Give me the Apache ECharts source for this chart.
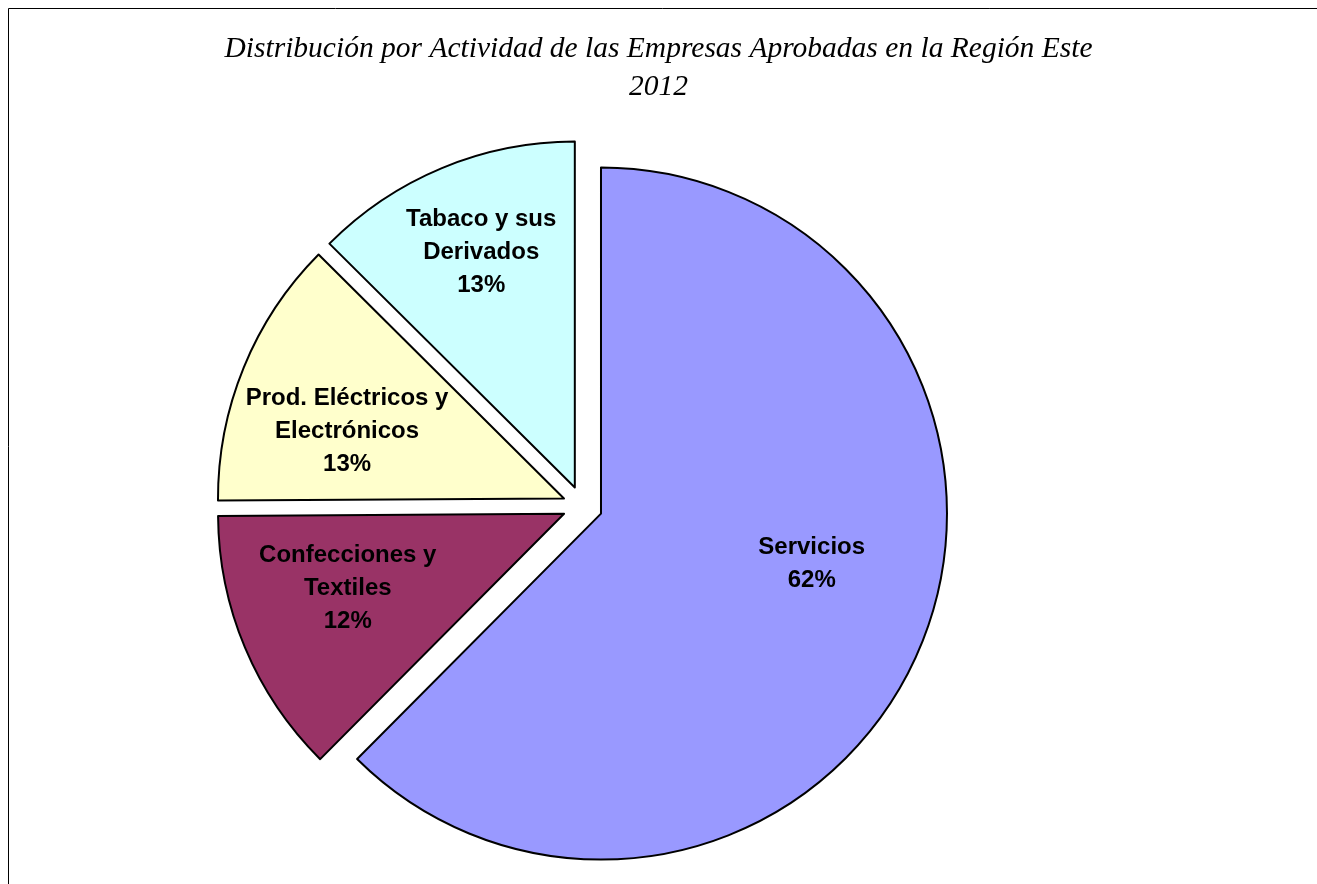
<!DOCTYPE html>
<html>
<head>
<meta charset="utf-8">
<script src="https://cdn.jsdelivr.net/npm/echarts@6/dist/echarts.min.js"></script>
<style>
html,body{margin:0;padding:0;background:#fff;}
#chart{width:1317px;height:884px;}
</style>
</head>
<body>
<div id="chart"></div>
<script>
var titleLines = ['Distribución por Actividad de las Empresas Aprobadas en la Región Este', '2012'];
var categories = ['Servicios', 'Confecciones y\nTextiles', 'Prod. Eléctricos y\nElectrónicos', 'Tabaco y sus\nDerivados'];
var values = [62.45, 12.45, 12.55, 12.55];
var colors = ['#9999FF', '#993366', '#FFFFCC', '#CCFFFF'];
var labelShift = [[48, -17], [-54, 7], [-54, 0], [-26, -73]];

var total = values.reduce(function (a, b) { return a + b; }, 0);
var chart = echarts.init(document.getElementById('chart'), null, {renderer: 'canvas'});
var data = categories.map(function (c, i) {
  return {name: c, value: values[i], selected: true, itemStyle: {color: colors[i]}};
});
chart.setOption({
  animation: false,
  title: {
    text: titleLines.join('\n'),
    left: 'center',
    top: 25,
    padding: [5, 5, 5, 17],
    textStyle: {fontFamily: 'Liberation Serif', fontStyle: 'italic', fontWeight: 'normal', fontSize: 29.5, lineHeight: 38, color: '#000'}
  },
  graphic: [{
    type: 'polyline',
    shape: {points: [[8.5, 884], [8.5, 8.5], [1317, 8.5]]},
    style: {stroke: '#000', lineWidth: 1, fill: null}
  }],
  series: [{
    type: 'pie',
    center: [582.5, 506],
    radius: 346,
    startAngle: 90,
    clockwise: true,
    selectedMode: 'multiple',
    selectedOffset: 20,
    emphasis: {disabled: true},
    itemStyle: {borderColor: '#000', borderWidth: 2},
    label: {
      show: true,
      position: 'inside',
      fontFamily: 'Liberation Sans',
      fontWeight: 'bold',
      fontSize: 24,
      lineHeight: 33,
      color: '#000',
      align: 'center',
      formatter: function (p) { return p.name + '\n' + Math.round(p.value / total * 100) + '%'; }
    },
    labelLine: {show: false},
    labelLayout: function (p) {
      return {dx: labelShift[p.dataIndex][0], dy: labelShift[p.dataIndex][1]};
    },
    data: data
  }]
});
</script>
</body>
</html>
